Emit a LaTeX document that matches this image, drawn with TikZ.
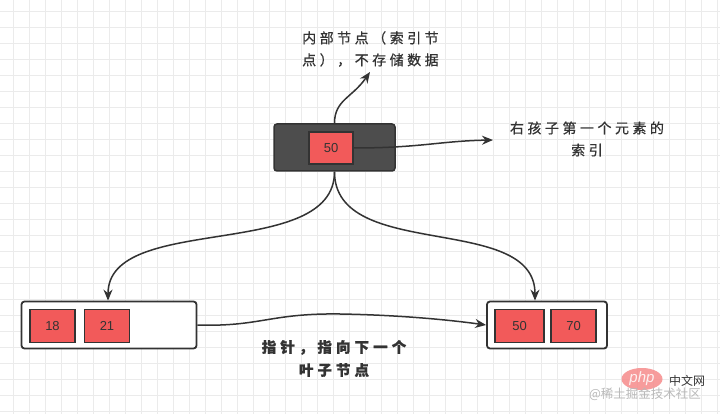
\documentclass[tikz,border=0pt]{standalone}
\usepackage{fontspec}
\setmainfont{Noto Sans CJK SC}
\newfontfamily\cjk[LetterSpace=25,FakeBold=0.6]{Noto Sans CJK SC}
\newfontfamily\cjkb[LetterSpace=28,FakeBold=1.2]{Noto Sans CJK SC}
\newfontfamily\numfont{Liberation Sans}
\usetikzlibrary{arrows.meta,shapes.geometric}
\definecolor{cellred}{HTML}{F25A5A}
\definecolor{darkbox}{HTML}{4D4D4D}
\definecolor{edge}{HTML}{333333}
\definecolor{txt}{HTML}{333333}
\definecolor{gridc}{HTML}{EBEBEB}
\begin{document}
\begin{tikzpicture}[x=1pt,y=-1pt,
  gridline/.style={draw=gridc,line width=0.8pt},
  topbox/.style={draw=edge,fill=darkbox,rounded corners=3pt,line width=1.5pt,minimum width=121pt,minimum height=47pt,inner sep=0pt},
  leafbox/.style={draw=edge,fill=white,rounded corners=3pt,line width=1.8pt,minimum height=47pt,inner sep=0pt},
  cellbox/.style={draw=edge,fill=cellred,line width=1.3pt,minimum width=44pt,minimum height=32pt,inner sep=0pt,font=\numfont\fontsize{13}{15}\selectfont,text=txt},
  conn/.style={draw=edge,line width=1.5pt,-{Stealth[length=11pt,width=9pt]}},
  lbl/.style={text=txt,inner sep=0pt,font=\cjk\fontsize{14}{22}\selectfont},
  blbl/.style={text=txt,inner sep=0pt,font=\cjkb\bfseries\fontsize{14.5}{23}\selectfont,align=center},
]
\useasboundingbox (0,0) rectangle (720,414);
\fill[white] (0,0) rectangle (720,414);
% grid
\foreach \k in {0,...,44} \draw[gridline] (13+16*\k,0) -- (13+16*\k,414);
\foreach \k in {0,...,25} \draw[gridline] (0,11+16*\k) -- (720,11+16*\k);

% internal node
\node[topbox] (top) at (334.5,147.5) {};
\node[cellbox] (c50) at (331,148) {50};

% leaves
\node[leafbox,minimum width=175pt] (L) at (109,325) {};
\node[cellbox,minimum width=45pt,minimum height=33pt] (c18) at (52.5,326) {18};
\node[cellbox,minimum width=45pt,minimum height=33pt] (c21) at (107,326) {21};
\node[leafbox,minimum width=120pt] (R) at (547,325) {};
\node[cellbox,minimum width=49pt,minimum height=33pt] (d50) at (519.5,326) {50};
\node[cellbox,minimum width=45pt,minimum height=33pt] (d70) at (573.5,326) {70};

% labels
\node[lbl,align=left,anchor=west] (tl) at (302,49) {内部节点（索引节\\点），不存储数据};
\node[lbl,align=center] (rl) at (587,139) {右孩子第一个元素的\\索引};
\node[blbl] (bl) at (334,358.5) {指针，指向下一个\\叶子节点};

% free ends
\coordinate (tupend) at (370,72);
\coordinate (rend) at (493,140);

% connectors
\draw[conn] (top.north) .. controls (334.5,100) and (352,98) .. (tupend);
\draw[conn] (c50.east) .. controls (420,148) and (440,141) .. (rend);
\draw[conn] (top.south) .. controls (334.5,262) and (108,212) .. ([xshift=-1pt]L.north);
\draw[conn] (top.south) .. controls (334.5,262) and (535,212) .. ([xshift=-12pt]R.north);
\draw[conn] (L.east) .. controls (260,327) and (270,313) .. (340,314) .. controls (400,315) and (450,320) .. (R.west);

% watermark
\node[ellipse,fill=cellred!70!white,opacity=0.85,minimum width=41pt,minimum height=22pt,inner sep=0pt,text=white,font=\numfont\itshape\fontsize{15}{15}\selectfont] (php) at (642,379) {php};
\node[text=txt,inner sep=0pt,font=\fontsize{12}{12}\selectfont] (zw) at (687,381) {中文网};
\node[text=gray!55,inner sep=0pt,font=\fontsize{12.5}{12.5}\selectfont] (jj) at (645,394) {@稀土掘金技术社区};
\end{tikzpicture}
\end{document}
